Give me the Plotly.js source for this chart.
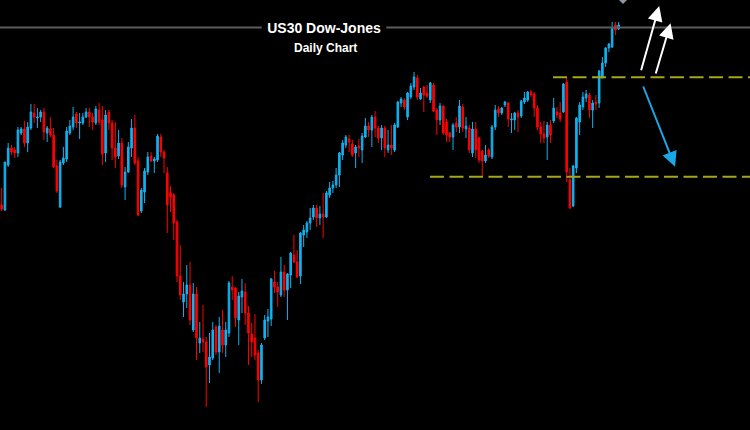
<!DOCTYPE html>
<html>
<head>
<meta charset="utf-8">
<script src="https://cdn.plot.ly/plotly-3.0.1.min.js"></script>
<style>
  html, body { margin: 0; padding: 0; background: #000; }
  #chart { width: 750px; height: 430px; }
</style>
</head>
<body>
<div id="chart"></div>
<script>
// Daily candles (chart units, higher = higher price)
const openVals = [225,220,265,282,280,277,297,301,287,302,317,312,313,318,297,301,295,264,223,267,
271,297,303,316,307,307,313,318,313,307,320,310,277,318,307,282,274,287,243,258,
282,302,269,219,238,258,274,269,270,293,278,257,237,235,208,154,128,136,145,100,
136,87,91,88,65,72,103,78,100,85,97,143,142,110,133,138,117,96,92,77,
50,92,109,111,148,143,135,158,140,155,175,168,154,195,198,207,213,222,212,216,
213,235,242,245,255,275,285,291,286,277,284,280,293,304,300,313,302,292,302,280,
285,280,303,327,330,313,333,343,352,331,343,337,330,345,320,310,324,308,297,293,
307,303,323,301,302,277,301,292,279,269,280,273,303,321,317,325,327,310,310,317,
314,328,330,338,336,322,303,296,293,305,309,318,317,318,348,250,224,262,308,323,
332,335,320,328,327,352,367,382,383,405,401];
const closeVals = [221,268,282,278,277,300,301,287,303,318,313,313,318,298,302,295,263,239,268,272,
299,304,313,307,308,313,318,313,308,321,308,276,315,307,282,273,287,245,258,283,
302,267,215,240,259,273,269,271,294,278,272,225,233,207,154,135,136,145,110,136,
92,92,88,63,73,100,78,104,85,100,147,140,112,134,139,117,97,88,75,50,
85,110,113,151,143,138,158,140,156,177,168,153,197,200,207,212,222,212,216,213,
237,242,245,255,277,287,293,288,275,283,282,294,304,300,313,302,292,302,282,285,
282,305,328,331,323,337,344,353,333,337,335,334,347,319,310,324,297,295,293,305,
303,324,302,304,280,301,280,270,269,275,274,303,320,317,322,328,311,311,317,313,
329,332,338,335,322,303,296,292,305,295,322,315,311,346,258,222,264,312,325,333,
336,320,327,326,359,367,382,386,402,400,405];
const highVals = [242,268,287,285,283,303,303,309,308,326,326,322,320,322,304,313,302,270,270,283,
303,310,323,318,317,317,322,322,317,324,327,324,320,320,310,308,300,292,263,288,
311,315,273,242,262,278,278,273,296,296,280,263,244,237,210,185,148,165,168,147,
143,108,125,93,97,108,105,113,120,108,149,154,143,138,151,147,124,107,116,80,
87,115,121,152,159,148,173,165,157,178,195,180,198,205,209,222,225,225,224,237,
239,248,249,262,278,290,295,295,290,285,291,297,312,308,315,319,304,305,304,300,
305,307,329,333,332,338,347,358,355,342,344,345,348,347,322,327,325,311,298,307,
313,330,326,313,305,308,308,293,280,285,282,305,325,324,323,329,328,317,318,320,
330,338,339,340,338,325,308,309,308,310,332,323,328,347,353,262,265,313,328,338,
340,337,330,335,360,373,383,387,408,408,408];
const lowVals = [219,219,263,275,272,273,295,283,278,300,307,302,308,290,288,293,262,237,222,265,
268,295,300,302,291,305,312,303,300,305,305,265,268,300,270,262,271,242,230,257,
273,265,214,217,227,255,268,257,268,273,257,197,218,190,148,130,113,122,105,98,
70,77,78,23,47,70,75,57,77,73,93,130,103,85,117,105,65,73,70,28,
46,90,93,104,137,123,133,133,110,142,167,152,146,183,192,200,210,203,205,192,
212,232,237,242,243,270,282,278,273,262,273,267,292,293,283,293,287,280,273,277,
275,278,302,323,320,310,331,340,330,330,318,332,327,318,295,305,295,288,288,280,
298,297,298,292,277,273,272,267,254,267,272,271,300,313,315,323,303,297,300,298,
312,326,328,333,313,300,287,287,270,287,307,312,308,317,248,221,223,257,295,320,
328,312,302,320,322,352,363,378,382,395,400];

// Horizontal levels (dashed) and where each one starts (candle index)
const levelValues = [352.7, 253.3];
const levelStarts = [169.8, 131.9];
// Top reference line value
const topLineValue = 402.5;

const idx = openVals.map((_, i) => i);

const trace = {
  type: 'candlestick',
  x: idx,
  open: openVals,
  high: highVals,
  low: lowVals,
  close: closeVals,
  increasing: { line: { color: '#0fb3f0', width: 1 }, fillcolor: '#0fb3f0' },
  decreasing: { line: { color: '#ff0000', width: 1 }, fillcolor: '#ff0000' },
  whiskerwidth: 0,
  hoverinfo: 'skip',
  showlegend: false
};

const shapes = [];
levelValues.forEach((v, k) => {
  shapes.push({
    type: 'line', xref: 'x', yref: 'y',
    x0: levelStarts[k], x1: 240, y0: v, y1: v,
    line: { color: '#a6a61a', width: 2, dash: '14px,5.5px' }
  });
});
// grey line at top, interrupted behind the title
shapes.push({ type: 'line', xref: 'paper', yref: 'y', x0: 0, x1: 0.349,
  y0: topLineValue, y1: topLineValue, line: { color: '#5c5c5c', width: 2 } });
shapes.push({ type: 'line', xref: 'paper', yref: 'y', x0: 0.515, x1: 1,
  y0: topLineValue, y1: topLineValue, line: { color: '#5c5c5c', width: 2 } });
// small grey marker at the top edge
shapes.push({ type: 'path', xref: 'paper', yref: 'paper',
  path: 'M 0.8253 1 L 0.836 1 L 0.8307 0.9907 Z',
  fillcolor: '#8a96a3', line: { width: 0 } });

function arrow(tx, ty, sx, sy, color) {
  return { x: tx, y: ty, ax: sx, ay: sy, xref: 'x', yref: 'y', axref: 'x', ayref: 'y',
    text: '', showarrow: true, arrowhead: 2, arrowsize: 1.5, arrowwidth: 2, arrowcolor: color };
}

const layout = {
  width: 750, height: 430,
  margin: { l: 0, r: 0, t: 0, b: 0 },
  paper_bgcolor: '#000', plot_bgcolor: '#000',
  title: {
    text: '<b>US30 Dow-Jones</b>',
    font: { family: 'Liberation Sans, Arial, sans-serif', size: 14, color: '#ffffff' },
    x: 324 / 750, xref: 'paper', xanchor: 'center',
    y: 1 - 28.5 / 430, yref: 'container', yanchor: 'middle'
  },
  xaxis: { range: [-0.52, 230.46], visible: false, showgrid: false, zeroline: false,
    rangeslider: { visible: false }, fixedrange: true },
  yaxis: { range: [0, 430], visible: false, showgrid: false, zeroline: false, fixedrange: true },
  shapes: shapes,
  annotations: [
    { text: '<b>Daily Chart</b>', xref: 'paper', yref: 'paper', x: 325.5 / 750, y: 1 - 48.3 / 430,
      xanchor: 'center', yanchor: 'middle', showarrow: false,
      font: { family: 'Liberation Sans, Arial, sans-serif', size: 12, color: '#ffffff' } },
    arrow(202.5, 424, 196.8, 358.3, '#ffffff'),
    arrow(206.0, 406.7, 201.3, 355, '#ffffff'),
    arrow(207.4, 263.3, 197.4, 345, '#1aa7e6')
  ]
};

Plotly.newPlot('chart', [trace], layout, { staticPlot: true, displayModeBar: false });
</script>
</body>
</html>
